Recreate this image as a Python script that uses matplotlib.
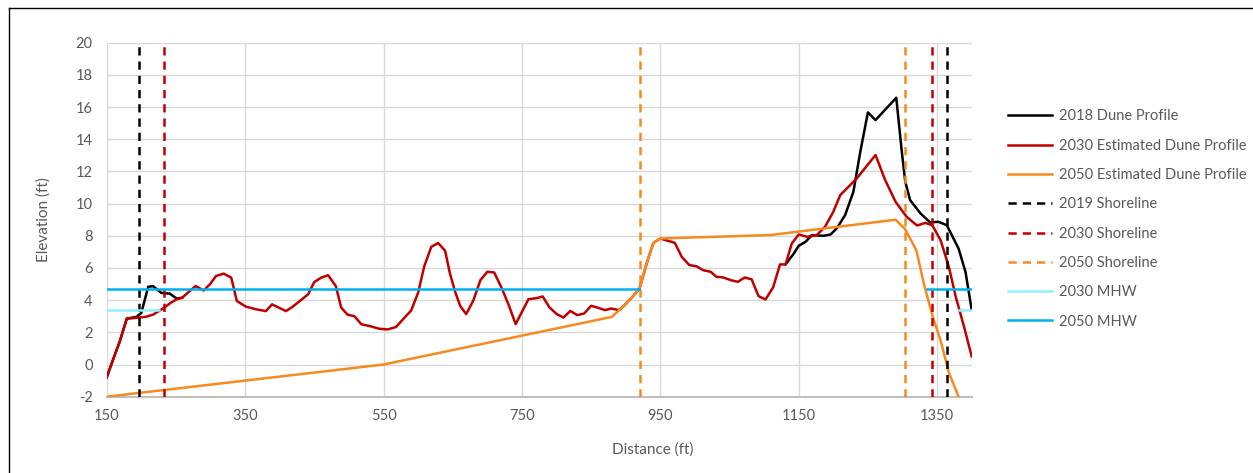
import numpy as np
import matplotlib
matplotlib.use("Agg")
import matplotlib.pyplot as plt
from matplotlib.lines import Line2D

plt.rcParams['font.family'] = ['Lato', 'DejaVu Sans']
plt.rcParams['axes.unicode_minus'] = False

# profile points shared by the 2018 and 2030 profiles
mid_x = [259, 270, 278.5, 290, 299, 308, 319, 330, 338, 351, 366, 380, 389, 409, 419,
         441, 450, 460, 470, 481, 489, 498, 508, 518, 530, 544, 556, 568, 578, 590,
         600, 609, 619, 629, 639, 646, 653.5, 661, 669.5, 680, 690, 700, 710, 721,
         731, 741, 750, 759.5, 770.5, 780, 790, 800.5, 810, 820, 830, 840, 850, 859,
         870, 879, 890, 897, 909, 920, 931, 940, 950, 971, 981, 992, 1002, 1012,
         1023, 1031, 1041, 1052, 1062, 1072, 1082, 1092, 1102, 1113, 1123, 1131]
mid_y = [4.15, 4.57, 4.88, 4.6, 4.98, 5.5, 5.65, 5.4, 3.95, 3.6, 3.43, 3.32, 3.74, 3.32, 3.6,
         4.36, 5.13, 5.4, 5.55, 4.88, 3.53, 3.1, 3.0, 2.5, 2.39, 2.22, 2.18, 2.33, 2.8, 3.36,
         4.46, 6.12, 7.31, 7.55, 7.07, 5.66, 4.52, 3.63, 3.13, 4.0, 5.24, 5.76, 5.72, 4.73,
         3.69, 2.51, 3.27, 4.06, 4.12, 4.23, 3.54, 3.13, 2.92, 3.33, 3.07, 3.17, 3.65, 3.54,
         3.38, 3.48, 3.38, 3.63, 4.17, 4.72, 6.38, 7.56, 7.83, 7.56, 6.69, 6.18, 6.11, 5.86,
         5.76, 5.45, 5.41, 5.24, 5.14, 5.41, 5.29, 4.25, 4.04, 4.79, 6.22, 6.22]

# 2018 dune profile (own start and end)
p18_start_x = [150, 160, 169, 179, 193, 200, 210, 217, 229, 241, 251]
p18_start_y = [-0.8, 0.4, 1.45, 2.85, 2.96, 3.2, 4.83, 4.87, 4.45, 4.41, 4.1]
p18_end_x = [1143, 1150, 1160, 1169, 1186, 1196, 1205, 1217, 1229, 1239, 1250, 1261,
             1291, 1299, 1304, 1311, 1326, 1340, 1352, 1364, 1381, 1391, 1400]
p18_end_y = [6.9, 7.38, 7.63, 8.04, 8.0, 8.08, 8.46, 9.28, 10.73, 13.22, 15.67, 15.19,
             16.58, 13.22, 11.36, 10.22, 9.39, 8.83, 8.87, 8.66, 7.21, 5.76, 3.4]

# 2030 estimated dune profile
p30_start_x = [150, 160, 169, 179, 193, 207, 217, 231, 243, 251]
p30_start_y = [-0.8, 0.4, 1.45, 2.85, 2.9, 2.97, 3.1, 3.47, 3.85, 4.05]
p30_end_x = [1140, 1150, 1162, 1176, 1188, 1200, 1210, 1234, 1261, 1275, 1290, 1306,
             1321, 1333, 1343, 1355, 1367, 1377, 1389, 1400]
p30_end_y = [7.52, 8.08, 7.94, 8.04, 8.56, 9.49, 10.53, 11.57, 13.02, 11.46, 10.11, 9.18,
             8.64, 8.8, 8.66, 7.73, 6.07, 4.2, 2.34, 0.5]

# 2050 estimated dune profile
p50_x = [150, 550, 880, 897, 909, 920, 931, 940, 950, 1110, 1290, 1304, 1320, 1331,
         1343, 1355, 1367, 1381, 1390]
p50_y = [-2, 0, 2.96, 3.63, 4.17, 4.72, 6.38, 7.56, 7.83, 8.05, 9.0, 8.4, 7.1, 5.0,
         3.07, 1.5, -0.5, -2.0, -3.2]

# shorelines (landward, seaward)
shore19 = [196, 1364]
shore30 = [233, 1343]
shore50 = [921, 1304]

# mean high water levels and the stretches where they are drawn
mhw30_level = 3.4
mhw30_spans = [(150, 225), (1381, 1400)]
mhw50_level = 4.7
mhw50_spans = [(150, 919), (1335, 1400)]

C_RED = '#C00000'
C_ORANGE = '#F58A1F'
C_LCYAN = '#8FF0FF'
C_BLUE = '#00B0F0'
TXT = '#595959'

fig = plt.figure(figsize=(12.53, 4.73), dpi=100)
ax = fig.add_axes([106.7 / 1253, 1 - 396.7 / 473, 865 / 1253, 354 / 473])

lw = 1.8
# black is hidden under the red where both profiles agree, so only its own parts are drawn
b_x = p18_start_x + mid_x[:1] + [np.nan] + mid_x[-1:] + p18_end_x
b_y = p18_start_y + mid_y[:1] + [np.nan] + mid_y[-1:] + p18_end_y
ax.plot(b_x, b_y, color='black', lw=lw, label='2018 Dune Profile', zorder=3)
ax.plot(p30_start_x + mid_x + p30_end_x, p30_start_y + mid_y + p30_end_y,
        color=C_RED, lw=lw, label='2030 Estimated Dune Profile', zorder=4)
ax.plot(p50_x, p50_y, color=C_ORANGE, lw=lw, label='2050 Estimated Dune Profile', zorder=5)


def vlines(xs):
    px, py = [], []
    for x in xs:
        px += [x, x, np.nan]
        py += [-2, 20, np.nan]
    return px, py


def hspans(spans, level):
    px, py = [], []
    for a, b in spans:
        px += [a, b, np.nan]
        py += [level, level, np.nan]
    return px, py


dash = (3.3, 2.4)
for xs, col, lab, z in [(shore19, 'black', '2019 Shoreline', 6),
                        (shore30, C_RED, '2030 Shoreline', 7),
                        (shore50, C_ORANGE, '2050 Shoreline', 8)]:
    vx, vy = vlines(xs)
    ax.plot(vx, vy, color=col, lw=lw, dashes=dash, label=lab, zorder=z)

hx, hy = hspans(mhw30_spans, mhw30_level)
ax.plot(hx, hy, color=C_LCYAN, lw=lw, label='2030 MHW', zorder=9)
hx, hy = hspans(mhw50_spans, mhw50_level)
ax.plot(hx, hy, color=C_BLUE, lw=lw, label='2050 MHW', zorder=10)

ax.set_xlim(150, 1400)
ax.set_ylim(-2, 20)
ax.set_xticks(np.arange(150, 1400, 200))
ax.set_yticks(np.arange(-2, 21, 2))
ax.grid(True, color='#D9D9D9', lw=1.0, zorder=0)
ax.set_axisbelow(True)
for s in ['left', 'right', 'top']:
    ax.spines[s].set_visible(False)
ax.spines['bottom'].set_color('#BFBFBF')
ax.spines['bottom'].set_linewidth(1.5)
ax.tick_params(length=0, labelsize=10.5, colors=TXT)
ax.tick_params(axis='x', pad=9)
ax.tick_params(axis='y', pad=10)

ax.set_xlabel('Distance (ft)', fontsize=11, color=TXT)
ax.xaxis.set_label_coords((653 - 106.7) / 865, -0.128)
ax.set_ylabel('Elevation (ft)', fontsize=11, color=TXT)
ax.yaxis.set_label_coords(-(106.7 - 51) / 865, 0.5)

leg = ax.legend(loc='center left', bbox_to_anchor=(1002 / 1253, 1 - 219 / 473),
                bbox_transform=fig.transFigure, frameon=False, fontsize=10.5,
                handlelength=3.0, handletextpad=0.5, labelspacing=1.05,
                borderaxespad=0)
for t in leg.get_texts():
    t.set_color(TXT)

# chart area border
fig.add_artist(Line2D([8.5 / 1253, 8.5 / 1253], [0, 1 - 8.5 / 473],
                      transform=fig.transFigure, color='black', lw=1))
fig.add_artist(Line2D([8.5 / 1253, 1], [1 - 8.5 / 473, 1 - 8.5 / 473],
                      transform=fig.transFigure, color='black', lw=1))

fig.savefig('out.png', dpi=100)
